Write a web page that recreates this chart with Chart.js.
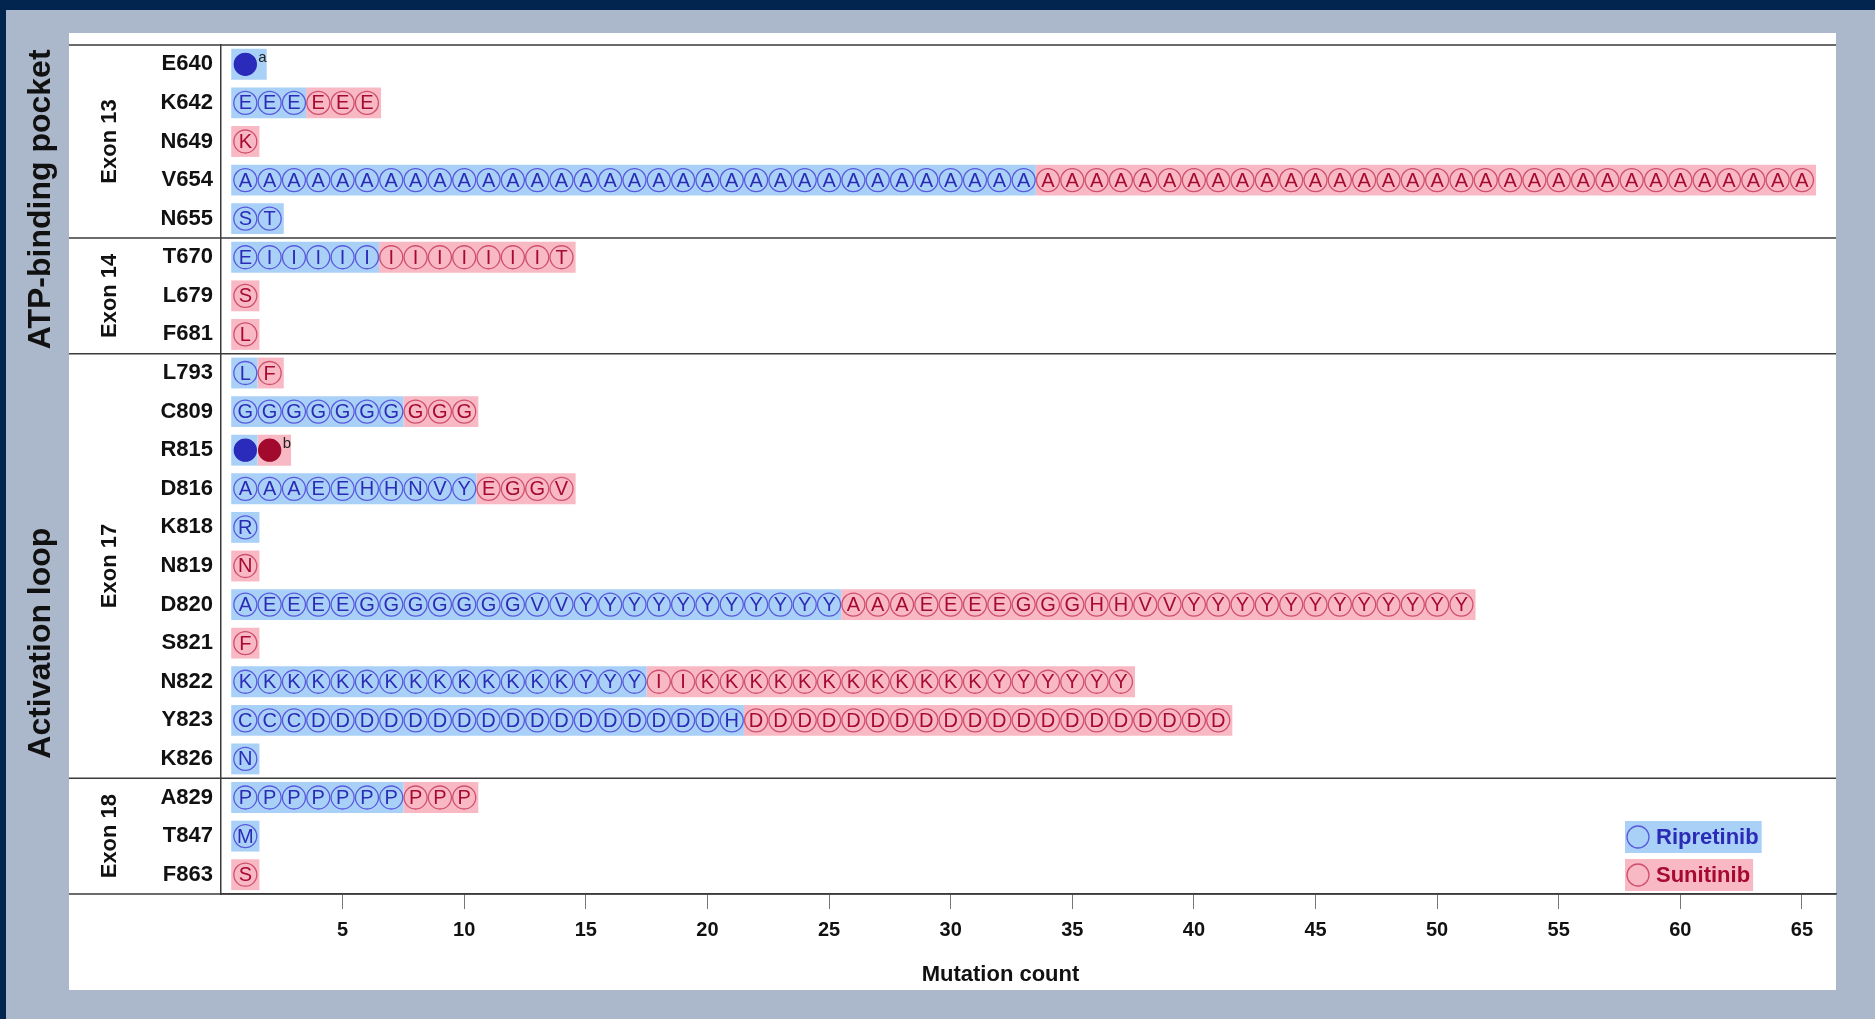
<!DOCTYPE html>
<html>
<head>
<meta charset="utf-8">
<title>Secondary KIT mutations – ripretinib vs sunitinib</title>
<script src="https://cdn.jsdelivr.net/npm/chart.js@4.4.1/dist/chart.umd.min.js"></script>
<style>
  html, body { margin: 0; padding: 0; background: #01254f; overflow: hidden; }
  canvas { display: block; }
</style>
</head>
<body>
<canvas id="chart" width="1875" height="1019"></canvas>
<script>
// rows (KIT residues), top to bottom
const residues = ['E640', 'K642', 'N649', 'V654', 'N655', 'T670', 'L679', 'F681',
  'L793', 'C809', 'R815', 'D816', 'K818', 'N819', 'D820', 'S821', 'N822', 'Y823', 'K826',
  'A829', 'T847', 'F863'];

// one letter per mutation (amino acid substituted); '●' = other/complex mutation
const ripretinib = [
  '●', 'EEE', '', 'AAAAAAAAAA' + 'AAAAAAAAAA' + 'AAAAAAAAAA' + 'AAA', 'ST',
  'EIIIII', '', '',
  'L', 'GGGGGGG', '●', 'AAAEEHHNVY', 'R', '', 'AEEEEGGGGGGGVV' + 'YYYYYYYYYY' + 'Y', '',
  'KKKKKKKKKK' + 'KKKK' + 'YYY', 'CCC' + 'DDDDDDDDDD' + 'DDDDDDD' + 'H', 'N',
  'PPPPPPP', 'M', ''
];
const sunitinib = [
  '', 'EEE', 'K', 'AAAAAAAAAA' + 'AAAAAAAAAA' + 'AAAAAAAAAA' + 'AA', '',
  'IIIIIIIT', 'S', 'L',
  'F', 'GGG', '●', 'EGGV', '', 'N', 'AAAEEEEGGGHHVV' + 'YYYYYYYYYY' + 'YY', 'F',
  'II' + 'KKKKKKKKKK' + 'KK' + 'YYYYYY', 'DDDDDDDDDD' + 'DDDDDDDDDD', '',
  'PPP', '', 'S'
];
const footnotes = ['a', '', '', '', '', '', '', '', '', '', 'b', '', '', '', '', '', '', '', '', '', '', ''];

const exonLabels = ['Exon 13', 'Exon 14', 'Exon 17', 'Exon 18'];
const exonFirst = ['E640', 'T670', 'L793', 'A829'];
const exonLast = ['N655', 'F681', 'K826', 'F863'];

const regionLabels = ['ATP-binding pocket', 'Activation loop'];
const regionFirst = ['E640', 'R815'];
const regionLast = ['F681', 'T847'];

const xTicks = [5, 10, 15, 20, 25, 30, 35, 40, 45, 50, 55, 60, 65];
const xTitle = 'Mutation count';
const seriesNames = ['Ripretinib', 'Sunitinib'];

const BLUE_BAR = '#a9d1f8', BLUE_LINE = '#5959dc', BLUE_TEXT = '#2b2bb6', BLUE_DOT = '#2a2abb';
const RED_BAR = '#f8b9c5', RED_LINE = '#cf4f6c', RED_TEXT = '#a60a30', RED_DOT = '#a10a2d';
const FONT = '"Liberation Sans", Arial, sans-serif';

const ripCount = ripretinib.map(s => s.length);
const sunCount = sunitinib.map(s => s.length);

// bar segments: one unit per mutation
const ripBars = residues.map((r, i) => ripCount[i]
  ? [0.42, ripCount[i] + (sunCount[i] ? 0.5 : 0.58 + (footnotes[i] ? 0.3 : 0))] : null);
const sunBars = residues.map((r, i) => sunCount[i]
  ? [ripCount[i] ? ripCount[i] + 0.5 : 0.42, ripCount[i] + sunCount[i] + 0.58 + (footnotes[i] ? 0.3 : 0)] : null);

const ripPoints = [], sunPoints = [];
residues.forEach((r, i) => {
  [...ripretinib[i]].forEach((c, j) => ripPoints.push({ x: j + 1, y: r, letter: c }));
  [...sunitinib[i]].forEach((c, j) => sunPoints.push({ x: ripCount[i] + j + 1, y: r, letter: c }));
});

function pointSet(label, data, line, dot, text) {
  return {
    type: 'scatter', label: label, data: data, order: 0, textColor: text,
    pointRadius: c => c.raw && c.raw.letter === '●' ? 11 : 11.5,
    pointHoverRadius: c => c.raw && c.raw.letter === '●' ? 11 : 11.5,
    pointBorderWidth: 1.3,
    pointBorderColor: c => c.raw && c.raw.letter === '●' ? dot : line,
    pointBackgroundColor: c => c.raw && c.raw.letter === '●' ? dot : 'rgba(0,0,0,0)'
  };
}

const decor = {
  id: 'decor',
  beforeDraw(chart) {
    const { ctx, width, height } = chart;
    ctx.save();
    ctx.fillStyle = '#01254f';
    ctx.fillRect(0, 0, width, height);
    ctx.fillStyle = '#abb7ca';
    ctx.fillRect(6, 10, width - 6, height - 10);
    ctx.fillStyle = '#ffffff';
    ctx.fillRect(69, 33, 1767, 957);
    ctx.restore();
  },
  beforeDatasetsDraw(chart) {
    const { ctx, chartArea, scales: { y } } = chart;
    const half = (y.getPixelForValue(1) - y.getPixelForValue(0)) / 2;
    const lines = [chartArea.top, chartArea.bottom];
    exonFirst.slice(1).forEach(r => lines.push(y.getPixelForValue(residues.indexOf(r)) - half));
    ctx.save();
    ctx.strokeStyle = '#3a3a3a';
    ctx.lineWidth = 1.5;
    lines.forEach(py => {
      ctx.beginPath();
      ctx.moveTo(69, py);
      ctx.lineTo(chartArea.right, py);
      ctx.stroke();
    });
    ctx.restore();
  },
  afterDatasetsDraw(chart) {
    const { ctx } = chart;
    ctx.save();
    ctx.font = '20px ' + FONT;
    ctx.textAlign = 'center';
    ctx.textBaseline = 'middle';
    chart.data.datasets.forEach((ds, di) => {
      if (ds.type !== 'scatter') return;
      const meta = chart.getDatasetMeta(di);
      ctx.fillStyle = ds.textColor;
      meta.data.forEach((pt, k) => {
        const c = ds.data[k].letter;
        if (c !== '●') ctx.fillText(c, pt.x, pt.y + 1);
      });
    });
    // footnote marks after the last mark of a row
    ctx.font = '15px ' + FONT;
    ctx.textAlign = 'left';
    ctx.textBaseline = 'alphabetic';
    ctx.fillStyle = '#222';
    residues.forEach((r, i) => {
      if (!footnotes[i]) return;
      const di = sunCount[i] ? 1 : 0;
      const ds = chart.data.datasets[di];
      const meta = chart.getDatasetMeta(di);
      let last = null;
      ds.data.forEach((p, k) => { if (p.y === r) last = meta.data[k]; });
      if (last) ctx.fillText(footnotes[i], last.x + 13, last.y - 2);
    });
    ctx.restore();
  },
  afterDraw(chart) {
    const { ctx, chartArea, scales: { y } } = chart;
    const px = r => y.getPixelForValue(residues.indexOf(r));
    ctx.save();
    ctx.fillStyle = '#111';
    ctx.textAlign = 'center';
    ctx.textBaseline = 'middle';
    // x axis title (sits a little left of the plot centre)
    ctx.font = 'bold 22px ' + FONT;
    ctx.fillText(xTitle, (chartArea.left + chartArea.right) / 2 - 28, 975);
    // exon labels
    exonLabels.forEach((t, i) => {
      ctx.save();
      ctx.translate(110, (px(exonFirst[i]) + px(exonLast[i])) / 2);
      ctx.rotate(-Math.PI / 2);
      ctx.fillText(t, 0, 0);
      ctx.restore();
    });
    // region labels on the grey frame
    ctx.font = 'bold 32px ' + FONT;
    regionLabels.forEach((t, i) => {
      ctx.save();
      ctx.translate(41, (px(regionFirst[i]) + px(regionLast[i])) / 2);
      ctx.rotate(-Math.PI / 2);
      ctx.fillText(t, 0, 0);
      ctx.restore();
    });
    // legend, bottom right
    const cols = [[BLUE_BAR, BLUE_LINE, BLUE_TEXT], [RED_BAR, RED_LINE, RED_TEXT]];
    ctx.font = 'bold 22px ' + FONT;
    ctx.textAlign = 'left';
    seriesNames.forEach((name, i) => {
      const left = chartArea.right - 211;
      const top = chartArea.bottom - 73 + i * 38;
      const w = 34 + ctx.measureText(name).width;
      ctx.fillStyle = cols[i][0];
      ctx.fillRect(left, top, w, 32);
      ctx.beginPath();
      ctx.arc(left + 13, top + 16, 11, 0, Math.PI * 2);
      ctx.strokeStyle = cols[i][1];
      ctx.lineWidth = 1.3;
      ctx.stroke();
      ctx.fillStyle = cols[i][2];
      ctx.fillText(name, left + 31, top + 17);
    });
    ctx.restore();
  }
};

Chart.defaults.font.family = FONT;

new Chart(document.getElementById('chart'), {
  type: 'bar',
  data: {
    labels: residues,
    datasets: [
      pointSet(seriesNames[0], ripPoints, BLUE_LINE, BLUE_DOT, BLUE_TEXT),
      pointSet(seriesNames[1], sunPoints, RED_LINE, RED_DOT, RED_TEXT),
      { type: 'bar', label: seriesNames[0], data: ripBars, backgroundColor: BLUE_BAR, order: 1,
        grouped: false, barPercentage: 0.8, categoryPercentage: 1, borderWidth: 0 },
      { type: 'bar', label: seriesNames[1], data: sunBars, backgroundColor: RED_BAR, order: 1,
        grouped: false, barPercentage: 0.8, categoryPercentage: 1, borderWidth: 0 }
    ]
  },
  options: {
    indexAxis: 'y',
    responsive: false,
    animation: false,
    devicePixelRatio: 1,
    layout: { padding: { top: 45, right: 39, left: 0, bottom: 0 } },
    scales: {
      x: {
        type: 'linear',
        position: 'bottom',
        min: 0,
        max: 66.4,
        afterBuildTicks: scale => { scale.ticks = xTicks.map(v => ({ value: v })); },
        afterFit: scale => { scale.height = 1019 - 894; },
        ticks: { font: { size: 20, weight: 'bold' }, color: '#111', padding: 9, maxRotation: 0, autoSkip: false },
        grid: { drawOnChartArea: false, drawTicks: true, tickLength: 15, color: '#777', lineWidth: 1 },
        border: { display: true, color: '#3a3a3a', width: 1.5 },
        title: { display: false, text: xTitle }
      },
      y: {
        type: 'category',
        labels: residues,
        offset: true,
        afterFit: scale => { scale.width = 221; },
        ticks: { font: { size: 22, weight: 'bold' }, color: '#111', padding: 8, autoSkip: false },
        grid: { display: false, drawTicks: false },
        border: { display: true, color: '#3a3a3a', width: 1.5 }
      }
    },
    plugins: {
      legend: { display: false },
      tooltip: { enabled: false }
    }
  },
  plugins: [decor]
});
</script>
</body>
</html>
